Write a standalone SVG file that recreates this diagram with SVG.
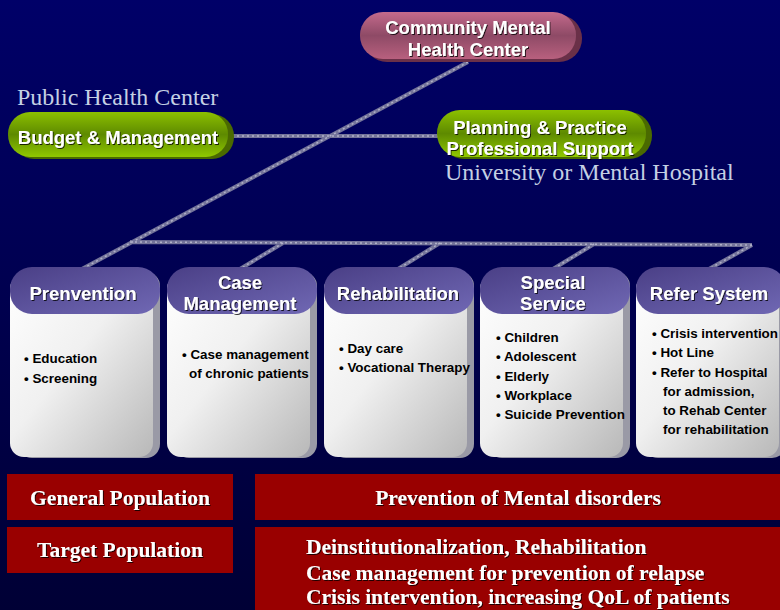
<svg xmlns="http://www.w3.org/2000/svg" width="780" height="610" viewBox="0 0 780 610">
<defs>
<linearGradient id="bg" x1="0" y1="0" x2="0" y2="1"><stop offset="0" stop-color="#000068"/><stop offset="1" stop-color="#000035"/></linearGradient>
<linearGradient id="pink" x1="0" y1="0" x2="0" y2="1"><stop offset="0" stop-color="#c46a8c"/><stop offset="0.5" stop-color="#8e4a66"/><stop offset="1" stop-color="#b8607e"/></linearGradient>
<linearGradient id="green" x1="0" y1="0" x2="0" y2="1"><stop offset="0" stop-color="#8cc000"/><stop offset="0.5" stop-color="#5e8a00"/><stop offset="1" stop-color="#90c800"/></linearGradient>
<linearGradient id="purple" x1="0" y1="0" x2="1" y2="1"><stop offset="0" stop-color="#4a3f86"/><stop offset="1" stop-color="#7068b4"/></linearGradient>
<linearGradient id="card" x1="0" y1="0" x2="1" y2="1"><stop offset="0" stop-color="#ffffff"/><stop offset="0.45" stop-color="#f0f0f0"/><stop offset="1" stop-color="#b8b8b8"/></linearGradient>
<filter id="ts" x="-5%" y="-20%" width="110%" height="140%"><feDropShadow dx="1" dy="1" stdDeviation="0.5" flood-color="#000" flood-opacity="0.8"/></filter>
</defs>
<style>
.pill{font-family:"Liberation Sans",Arial,sans-serif;font-weight:bold;font-size:18.5px;fill:#fff;text-anchor:middle}
.hdr{font-family:"Liberation Sans",Arial,sans-serif;font-weight:bold;font-size:18.5px;fill:#fff;text-anchor:middle}
.body{font-family:"Liberation Sans",Arial,sans-serif;font-weight:bold;font-size:13.4px;fill:#000}
.lbl{font-family:"Liberation Serif","Times New Roman",serif;font-size:24px;fill:#c4d0e4}
.bar{font-family:"Liberation Serif","Times New Roman",serif;font-weight:bold;font-size:21.5px;fill:#fff}
.line{stroke:#74749a;stroke-width:4;fill:none}
.line2{stroke:#b0b0c8;stroke-width:1.5;stroke-dasharray:2 3;fill:none}
.side{fill:#9a9aa6}
.cbody{fill:url(#card)}
.head{fill:url(#purple)}
.red{fill:#990000}
</style>
<rect width="780" height="610" fill="url(#bg)"/>
<g id="connectors">
<path class="line" d="M468,62 L80,270 M130,242 L752,245 M232,136 L438,136 M283,243 L240,269 M440,243 L398,269 M594,244 L553,269 M752,245 L709,269"/>
<path class="line2" d="M468,62 L80,270 M130,242 L752,245 M232,136 L438,136 M283,243 L240,269 M440,243 L398,269 M594,244 L553,269 M752,245 L709,269"/>
</g>
<g id="cmhc">
<rect x="364" y="15" width="218" height="47" rx="23" fill="#6a3048"/>
<rect x="360" y="12" width="216" height="47" rx="23" fill="url(#pink)"/>
<text class="pill" x="468" y="34" filter="url(#ts)">Community Mental</text>
<text class="pill" x="468" y="56" filter="url(#ts)">Health Center</text>
</g>
<g id="budget">
<text class="lbl" x="17" y="105">Public Health Center</text>
<rect x="12" y="114" width="222" height="45" rx="22" fill="#4a6a00"/>
<rect x="8" y="112" width="220" height="45" rx="22" fill="url(#green)"/>
<text class="pill" x="118" y="144" filter="url(#ts)">Budget &amp; Management</text>
</g>
<g id="planning">
<rect x="441" y="112" width="211" height="47" rx="23" fill="#4a6a00"/>
<rect x="437" y="110" width="209" height="47" rx="23" fill="url(#green)"/>
<text class="pill" x="540" y="134" filter="url(#ts)">Planning &amp; Practice</text>
<text class="pill" x="540" y="155" filter="url(#ts)">Professional Support</text>
<text class="lbl" x="445" y="180">University or Mental Hospital</text>
</g>
<g id="prevention">
<rect class="side" x="18" y="272" width="142" height="186" rx="14"/>
<rect class="cbody" x="10" y="275" width="143" height="182" rx="14"/>
<rect class="head" x="10" y="267" width="150" height="47" rx="22"/>
<text class="hdr" x="83" y="300" filter="url(#ts)">Prenvention</text>
<text class="body" x="24" y="363">• Education</text>
<text class="body" x="24" y="383">• Screening</text>
</g>
<g id="casemgmt">
<rect class="side" x="175" y="272" width="142" height="186" rx="14"/>
<rect class="cbody" x="167" y="275" width="143" height="182" rx="14"/>
<rect class="head" x="167" y="267" width="150" height="47" rx="22"/>
<text class="hdr" x="240" y="289" filter="url(#ts)">Case</text>
<text class="hdr" x="240" y="310" filter="url(#ts)">Management</text>
<text class="body" x="182" y="359">• Case management</text>
<text class="body" x="189" y="378">of chronic patients</text>
</g>
<g id="rehab">
<rect class="side" x="332" y="272" width="142" height="186" rx="14"/>
<rect class="cbody" x="324" y="275" width="143" height="182" rx="14"/>
<rect class="head" x="324" y="267" width="150" height="47" rx="22"/>
<text class="hdr" x="398" y="300" filter="url(#ts)">Rehabilitation</text>
<text class="body" x="339" y="353">• Day care</text>
<text class="body" x="339" y="372">• Vocational Therapy</text>
</g>
<g id="special">
<rect class="side" x="488" y="272" width="142" height="186" rx="14"/>
<rect class="cbody" x="480" y="275" width="143" height="182" rx="14"/>
<rect class="head" x="480" y="267" width="150" height="47" rx="22"/>
<text class="hdr" x="553" y="289" filter="url(#ts)">Special</text>
<text class="hdr" x="553" y="310" filter="url(#ts)">Service</text>
<text class="body" x="496" y="342">• Children</text>
<text class="body" x="496" y="361">• Adolescent</text>
<text class="body" x="496" y="381">• Elderly</text>
<text class="body" x="496" y="400">• Workplace</text>
<text class="body" x="496" y="419">• Suicide Prevention</text>
</g>
<g id="refer">
<rect class="side" x="644" y="272" width="142" height="186" rx="14"/>
<rect class="cbody" x="636" y="275" width="143" height="182" rx="14"/>
<rect class="head" x="636" y="267" width="150" height="47" rx="22"/>
<text class="hdr" x="709" y="300" filter="url(#ts)">Refer System</text>
<text class="body" x="652" y="338">• Crisis intervention</text>
<text class="body" x="652" y="357">• Hot Line</text>
<text class="body" x="652" y="377">• Refer to Hospital</text>
<text class="body" x="663" y="396">for admission,</text>
<text class="body" x="663" y="415">to Rehab Center</text>
<text class="body" x="663" y="434">for rehabilitation</text>
</g>
<g id="general">
<rect class="red" x="7" y="474" width="226" height="46"/>
<text class="bar" x="120" y="505" text-anchor="middle" filter="url(#ts)">General Population</text>
</g>
<g id="prevention-md">
<rect class="red" x="255" y="474" width="525" height="46"/>
<text class="bar" x="518" y="505" text-anchor="middle" filter="url(#ts)">Prevention of Mental disorders</text>
</g>
<g id="target">
<rect class="red" x="7" y="527" width="226" height="46"/>
<text class="bar" x="120" y="557" text-anchor="middle" filter="url(#ts)">Target Population</text>
</g>
<g id="target-desc">
<rect class="red" x="255" y="527" width="525" height="83"/>
<text class="bar" x="306" y="554" filter="url(#ts)">Deinstitutionalization, Rehabilitation</text>
<text class="bar" x="306" y="580" filter="url(#ts)">Case management for prevention of relapse</text>
<text class="bar" x="306" y="604" filter="url(#ts)">Crisis intervention, increasing QoL of patients</text>
</g>
</svg>
